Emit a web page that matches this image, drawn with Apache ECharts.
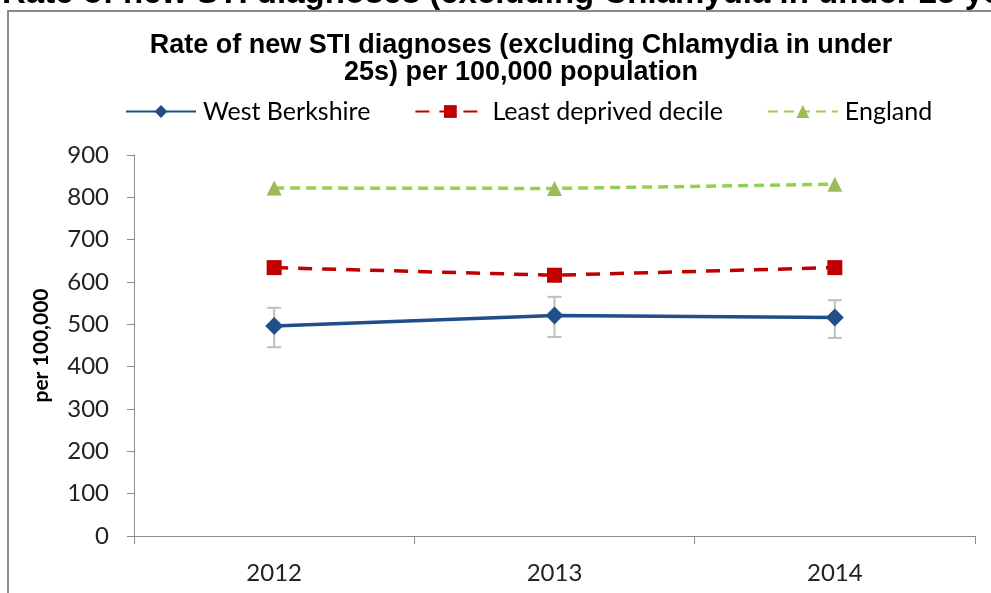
<!DOCTYPE html>
<html><head><meta charset="utf-8">
<script src="https://cdn.jsdelivr.net/npm/echarts@6/dist/echarts.min.js"></script>
<style>html,body{margin:0;padding:0;background:#fff}#c{width:991px;height:593px}</style>
</head><body><div id="c"></div>
<script>
const categories = ['2012', '2013', '2014'];
const westBerkshire = [496, 521, 516];
const wbLower = [446, 470, 468];
const wbUpper = [539, 565, 557];
const leastDeprived = [634, 616, 634];
const england = [822, 821, 831];
const yTicks = [0, 100, 200, 300, 400, 500, 600, 700, 800, 900];

const chart = echarts.init(document.getElementById('c'), null, {renderer: 'canvas'});
const errData = categories.map((c, i) => [i, wbLower[i], wbUpper[i]]);
const legendFont = 'Lato, "Open Sans", sans-serif';
chart.setOption({
  animation: false,
  backgroundColor: '#fff',
  graphic: [
    {type: 'rect', shape: {x: 8, y: 11, width: 1000, height: 600}, style: {fill: 'none', stroke: '#8c8c8c', lineWidth: 2}},
    {type: 'text', left: 2, top: -23, style: {text: 'Rate of new STI diagnoses (excluding Chlamydia in under 25 years) per 100,000', font: 'bold 33px "Liberation Sans", Arial, sans-serif', fill: '#000'}}
  ],
  title: {
    text: 'Rate of new STI diagnoses (excluding Chlamydia in under\n25s) per 100,000 population',
    left: 516, top: 27, textAlign: 'center',
    textStyle: {fontFamily: '"Liberation Sans", Arial, sans-serif', fontWeight: 'bold', fontSize: 27, lineHeight: 27, color: '#000'}
  },
  legend: {
    top: 94, left: 120, itemGap: 44, itemWidth: 70, itemHeight: 16,
    textStyle: {fontFamily: legendFont, fontSize: 25, color: '#000', padding: [0,0,0,2]},
    data: ['West Berkshire', 'Least deprived decile', 'England']
  },
  grid: {left: 134, right: 16, top: 155, bottom: 57},
  xAxis: {
    type: 'category', data: categories, boundaryGap: true,
    axisLine: {lineStyle: {color: '#8c8c8c', width: 1}},
    axisTick: {show: true, alignWithLabel: false, length: 8, lineStyle: {color: '#8c8c8c'}},
    axisLabel: {fontFamily: legendFont, fontSize: 24, color: '#222', margin: 25}
  },
  yAxis: {
    type: 'value', min: 0, max: 900, interval: 100,
    name: 'per 100,000', nameLocation: 'middle', nameGap: 82, nameRotate: 90,
    nameTextStyle: {fontFamily: legendFont, fontWeight: 'bold', fontSize: 21, color: '#000'},
    axisLine: {show: true, lineStyle: {color: '#8c8c8c'}},
    axisTick: {show: true, length: 7, inside: false, lineStyle: {color: '#8c8c8c'}},
    splitLine: {show: false},
    axisLabel: {fontFamily: legendFont, fontSize: 24, color: '#222', margin: 25,
      formatter: v => yTicks.includes(v) ? String(v) : ''}
  },
  series: [
    {
      name: 'West Berkshire', type: 'line', data: westBerkshire,
      symbol: 'diamond', symbolSize: 18, z: 5,
      lineStyle: {color: '#1f4e88', width: 3.5}, itemStyle: {color: '#1f4e88'}
    },
    {
      name: 'Least deprived decile', type: 'line', data: leastDeprived,
      symbol: 'rect', symbolSize: 15,
      lineStyle: {color: '#c00000', width: 3.5, type: [14, 10]}, itemStyle: {color: '#c00000'}
    },
    {
      name: 'England', type: 'line', data: england,
      symbol: 'triangle', symbolSize: 15,
      lineStyle: {color: '#92d050', width: 3.5, type: [10, 6]}, itemStyle: {color: '#9bbb59'}
    },
    {
      name: 'err', type: 'custom', data: errData, z: 2,
      renderItem: (params, api) => {
        const x = api.value(0);
        const lo = api.coord([x, api.value(1)]);
        const hi = api.coord([x, api.value(2)]);
        const w = 7;
        const st = {stroke: '#bfbfbf', lineWidth: 2};
        return {type: 'group', children: [
          {type: 'line', shape: {x1: lo[0], y1: lo[1], x2: hi[0], y2: hi[1]}, style: st},
          {type: 'line', shape: {x1: lo[0]-w, y1: lo[1], x2: lo[0]+w, y2: lo[1]}, style: st},
          {type: 'line', shape: {x1: hi[0]-w, y1: hi[1], x2: hi[0]+w, y2: hi[1]}, style: st}
        ]};
      }
    }
  ]
});
</script></body></html>
